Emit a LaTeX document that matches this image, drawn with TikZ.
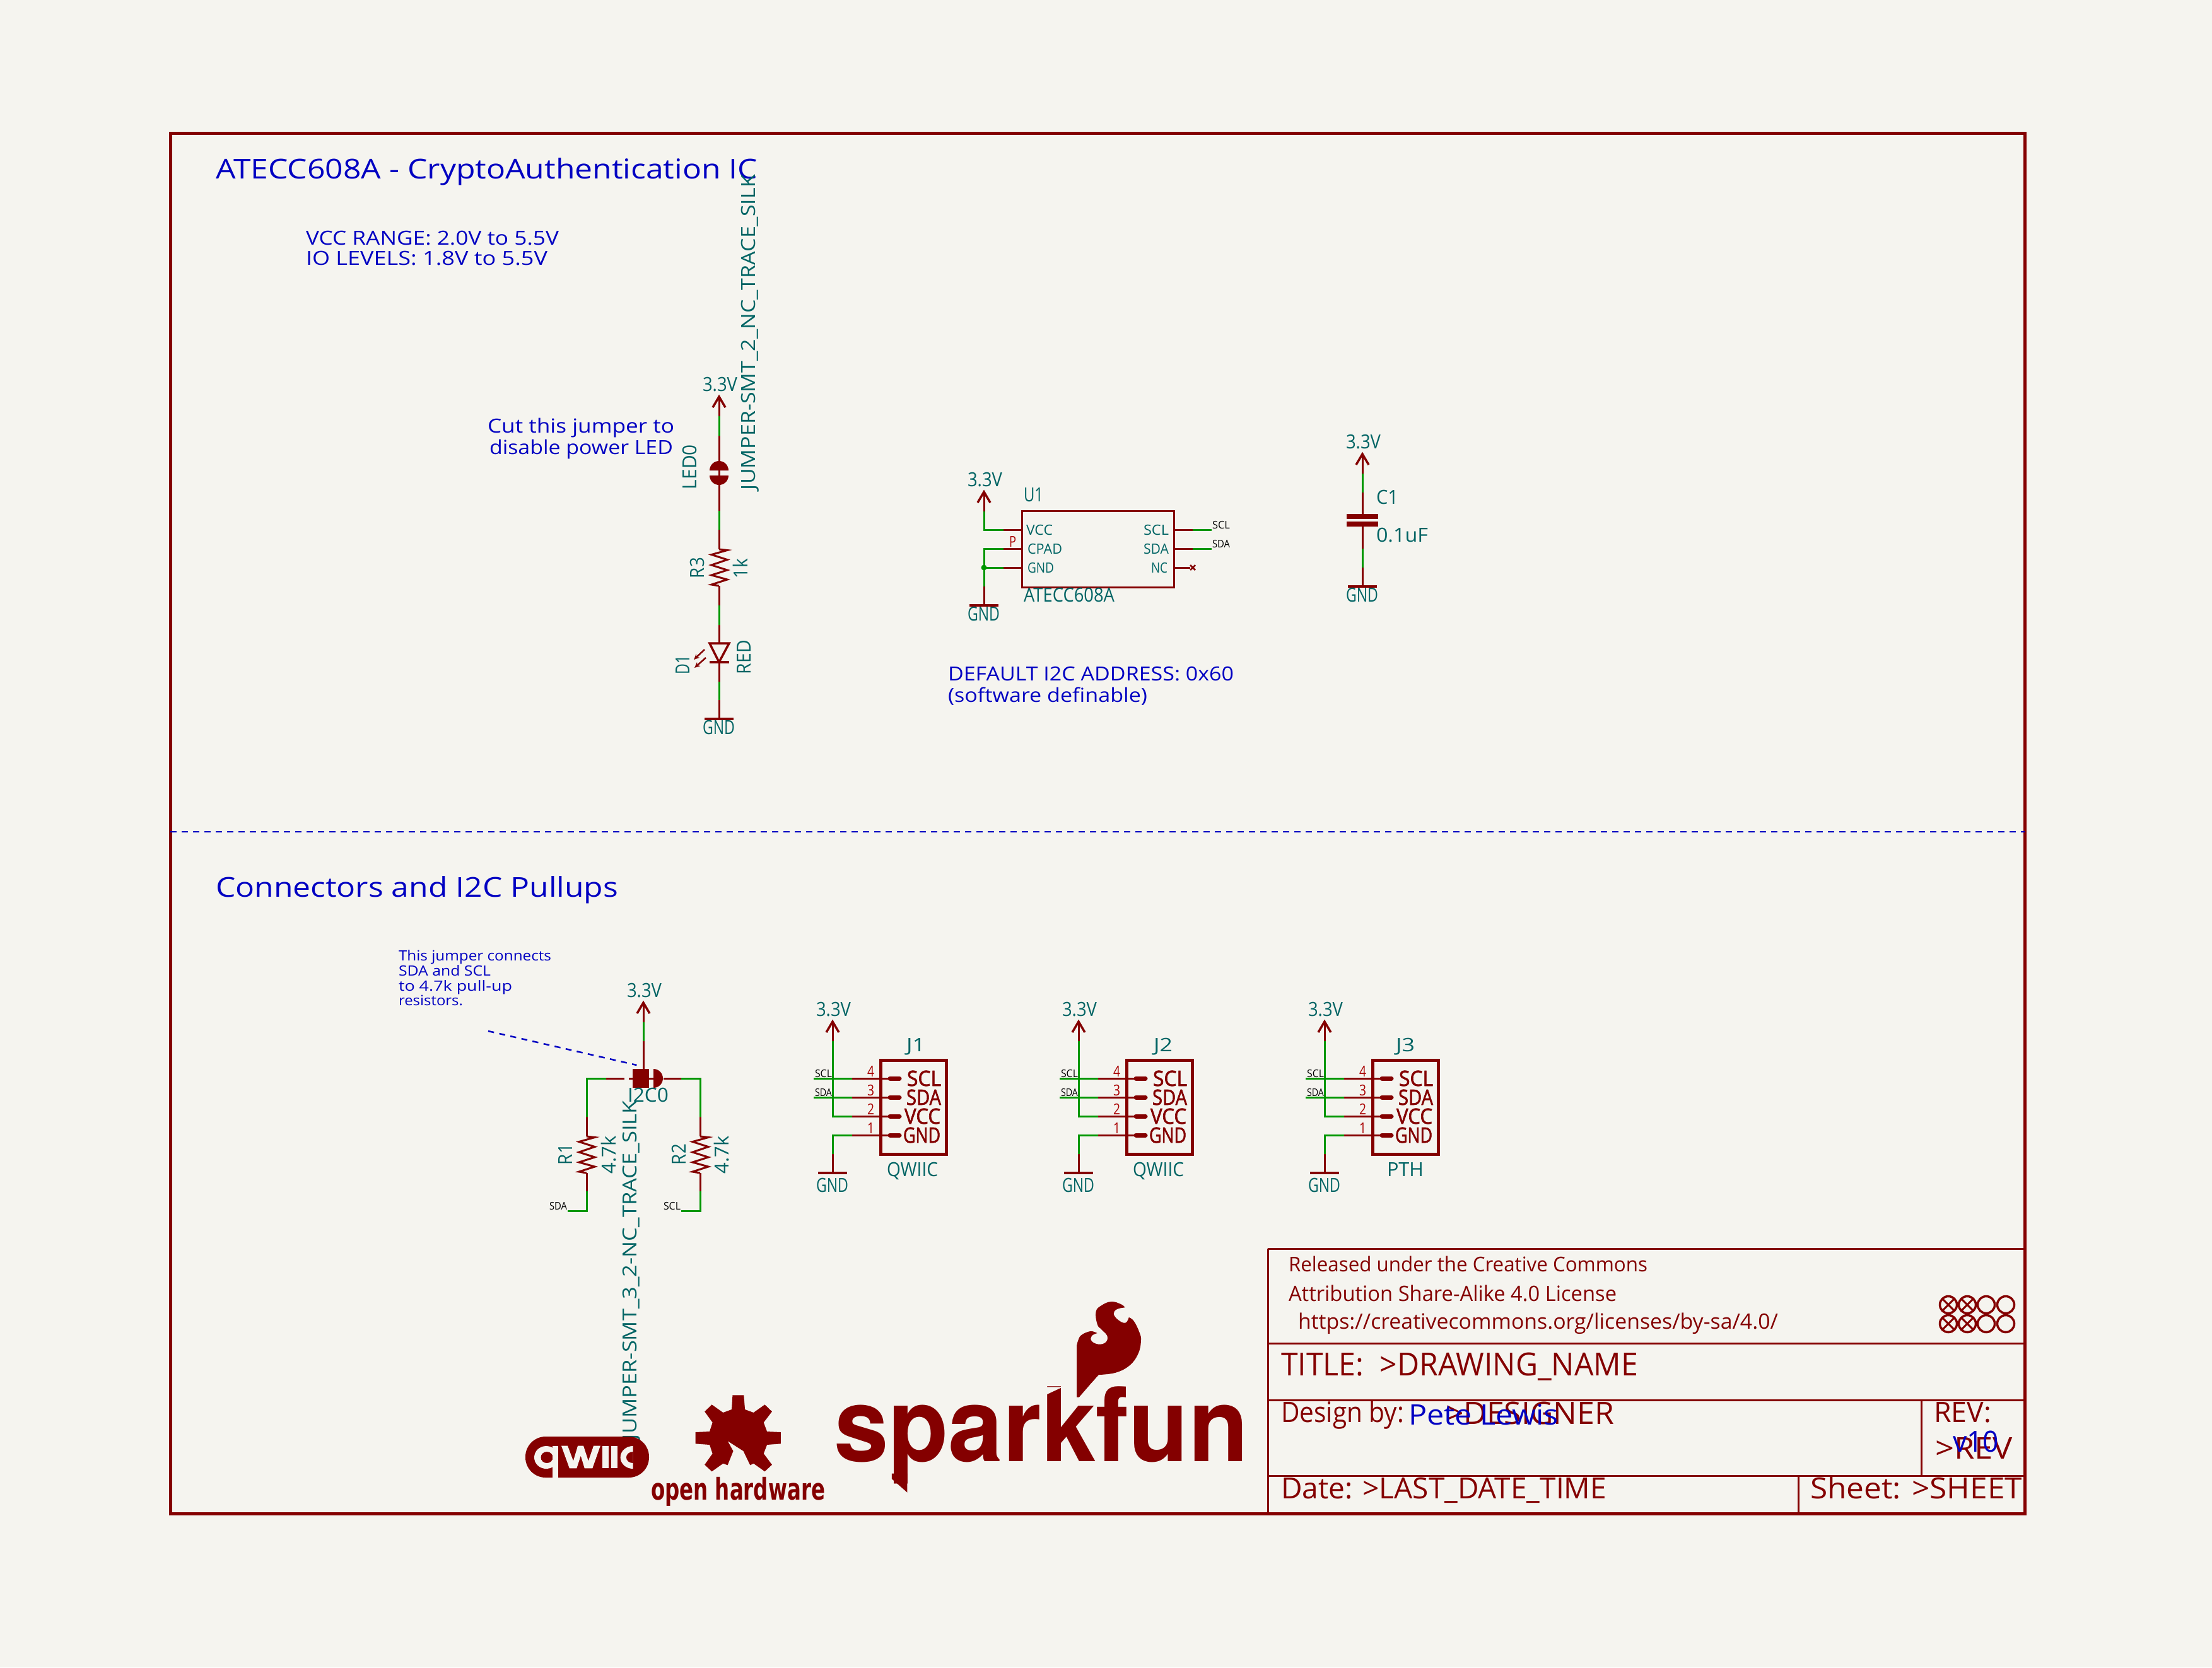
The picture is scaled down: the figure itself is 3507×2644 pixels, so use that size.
\documentclass[tikz,border=0pt]{standalone}
\usepackage{fontspec}
\usepackage{graphicx}
\usetikzlibrary{arrows.meta}
\setmainfont{Open Sans}
\newfontfamily\semif{Open Sans}[FakeBold=2]
\newfontfamily\herosf{TeX Gyre Heros}
\newfontfamily\dejaf{DejaVu Sans}
\definecolor{bgc}{HTML}{F5F4EF}
\definecolor{kred}{HTML}{840000}
\definecolor{kpin}{HTML}{A90000}
\definecolor{kgreen}{HTML}{009600}
\definecolor{kteal}{HTML}{006464}
\definecolor{kblue}{HTML}{0000C2}
\newlength\pxu \setlength\pxu{0.2mm}
\newlength\capu \setlength\capu{0.28mm}
\newlength\fsz
\newcommand\fitw[3]{\resizebox{#1\pxu}{\height}{\setlength\fsz{#2\capu}\fontsize{\fsz}{\fsz}\selectfont #3}}
\newcommand\klbl[6]{\node[#2] (#1) at (#3) {\fitw{#4}{#5}{#6}};}
\tikzset{
 lab/.style={inner sep=0pt,outer sep=0pt,anchor=base west},
 tealt/.style={lab,text=kteal},
 tealr/.style={tealt,rotate=90},
 bluet/.style={lab,text=kblue},
 redt/.style={lab,text=kred},
 boldred/.style={lab,text=kred,font=\semif},
 pinnum/.style={lab,text=kpin},
 blackt/.style={lab,text=black},
 wire/.style={draw=kgreen,line width=3\pxu,line join=miter},
 pinline/.style={draw=kred,line width=3\pxu},
 chevron/.style={draw=kred,line width=3.5\pxu,line join=miter},
 symline/.style={draw=kred,line width=3.5\pxu,line join=miter},
 gridline/.style={draw=kred,line width=3\pxu},
 noteline/.style={draw=kblue,line width=2.5\pxu,dash pattern=on 9.5\pxu off 8.5\pxu},
 ledarrow/.style={draw=kred,line width=2.5\pxu,-{Stealth[length=5.1pt,width=4.6pt]}},
}
\newcommand\kpwr[3]{%
 \coordinate (#1t) at (#2,#3);
 \coordinate (#1) at (#2,#3+31);
 \coordinate (#1a) at (#2-10,#3+17);
 \coordinate (#1b) at (#2+10,#3+17);
 \draw[pinline] (#1t) -- (#1);
 \draw[chevron] (#1a) -- (#1t) -- (#1b);
 \klbl{#1l}{tealt}{#2-26,#3-9}{55}{22}{3.3V}}
% id, x, y of bar, baseline offset of the label
\newcommand\kgnd[4]{%
 \coordinate (#1) at (#2,#3-30);
 \coordinate (#1m) at (#2,#3);
 \coordinate (#1a) at (#2-23,#3);
 \coordinate (#1b) at (#2+23,#3);
 \draw[pinline] (#1) -- (#1m);
 \draw[symline] (#1a) -- (#1b);
 \klbl{#1l}{tealt}{#2-26,#3+#4}{51}{22}{GND}}
\newcommand\kres[3]{%
 \coordinate (#1s) at (#2,#3);
 \coordinate (#1e) at (#2,#3+58);
 \draw[pinline,line join=miter] (#1s) -- (#2+13,#3+1.5) -- (#2-12,#3+8.5) -- (#2+13,#3+16.5) -- (#2-12,#3+25) -- (#2+13,#3+33) -- (#2-12,#3+41) -- (#2+13,#3+48) -- (#2-12,#3+56) -- (#1e);}
% id, xshift, refname, ref x (base), value, value x (base), value width
\newcommand\kconn[7]{%
 \begin{scope}[shift={(#2,0)}]
 \kpwr{#1p}{1320}{1620}
 \coordinate (#1c4) at (1351,1710); \coordinate (#1c3) at (1351,1740);
 \coordinate (#1c2) at (1351,1770); \coordinate (#1c1) at (1351,1800);
 \coordinate (#1s4) at (1290,1710); \coordinate (#1s3) at (1290,1740);
 \coordinate (#1e4) at (1408,1710); \coordinate (#1e3) at (1408,1740);
 \coordinate (#1e2) at (1408,1770); \coordinate (#1e1) at (1408,1800);
 \coordinate (#1f4) at (1411,1710); \coordinate (#1f3) at (1411,1740);
 \coordinate (#1f2) at (1411,1770); \coordinate (#1f1) at (1411,1800);
 \coordinate (#1h4) at (1426,1710); \coordinate (#1h3) at (1426,1740);
 \coordinate (#1h2) at (1426,1770); \coordinate (#1h1) at (1426,1800);
 \draw[wire] (#1p) |- (#1c2);
 \draw[wire] (#1s4) -- (#1c4);
 \draw[wire] (#1s3) -- (#1c3);
 \kgnd{#1g}{1320}{1860}{30}
 \draw[wire] (#1g) |- (#1c1);
 \foreach \n in {1,2,3,4} {
  \draw[pinline] (#1c\n) -- (#1e\n);
  \draw[draw=kred,line width=7\pxu,line cap=round] (#1f\n) -- (#1h\n);
 }
 \draw[draw=kred,line width=5\pxu] (1396,1681) rectangle (1500,1830);
 \klbl{#1n4}{pinnum}{1375,1707}{11}{17}{4}
 \klbl{#1n3}{pinnum}{1375,1737}{11}{17}{3}
 \klbl{#1n2}{pinnum}{1375,1767}{11}{17}{2}
 \klbl{#1n1}{pinnum}{1375,1797}{11}{17}{1}
 \klbl{#1t4}{boldred}{1438,1722}{54}{24}{SCL}
 \klbl{#1t3}{boldred}{1437,1752}{55}{24}{SDA}
 \klbl{#1t2}{boldred}{1434,1782}{57}{24}{VCC}
 \klbl{#1t1}{boldred}{1432,1812}{59}{24}{GND}
 \klbl{#1a4}{blackt}{1292,1708}{27}{12}{SCL}
 \klbl{#1a3}{blackt}{1292,1738}{27}{12}{SDA}
 \klbl{#1r}{tealt}{#4,1667}{30}{21}{#3}
 \klbl{#1v}{tealt}{#6,1865}{#7}{22}{#5}
 \end{scope}}
\begin{document}
\begin{tikzpicture}[x=0.2mm,y=-0.2mm]
\useasboundingbox (0,0) rectangle (3507,2644);
\fill[bgc] (0,0) rectangle (3507,2644);
% ---- frame
\draw[draw=kred,line width=5\pxu] (270.5,211) rectangle (3210,2400);
\coordinate (sepL) at (270,1319); \coordinate (sepR) at (3210,1319);
\draw[noteline] (sepL) -- (sepR);
% ---- title block
\draw[gridline] (2010,1980) -- (3210,1980);
\draw[gridline] (2010,1980) -- (2010,2400);
\draw[gridline] (2010,2130) -- (3210,2130);
\draw[gridline] (2010,2220) -- (3210,2220);
\draw[gridline] (2010,2340) -- (3210,2340);
\draw[gridline] (3046,2220) -- (3046,2340);
\draw[gridline] (2851,2340) -- (2851,2400);
\klbl{tbA}{redt}{2043,2016}{569}{23}{Released under the Creative Commons}
\klbl{tbB}{redt}{2043,2063}{520}{24}{Attribution Share-Alike 4.0 License}
\klbl{tbC}{redt}{2058,2107}{761}{24}{https://creativecommons.org/licenses/by-sa/4.0/}
\klbl{tbT}{redt}{2031,2181}{566}{36}{TITLE:\ \ >DRAWING\_NAME}
\klbl{tbD}{redt}{2031,2255}{195}{32}{Design by:}
\klbl{tbE}{redt}{2292,2258}{267}{35}{>DESIGNER}
\klbl{tbF}{bluet}{2233,2259}{238}{32}{Pete Lewis}
\klbl{tbR}{redt}{3066,2255}{91}{32}{REV:}
\klbl{tbS}{redt}{3068,2313}{123}{34}{>REV}
\klbl{tbV}{bluet}{3096,2302}{73}{33}{v10}
\klbl{tbG}{redt}{2031,2376}{516}{33}{Date: >LAST\_DATE\_TIME}
\klbl{tbH}{redt}{2870,2376}{336}{33}{Sheet: >SHEET}
\foreach \cx in {3089,3119,3149,3180} \foreach \cy in {2069,2099} {
  \draw[draw=kred,line width=3.5\pxu] (\cx,\cy) circle (13.5);
}
\foreach \cx in {3089,3119} \foreach \cy in {2069,2099} {
  \draw[draw=kred,line width=3\pxu] (\cx-9.5,\cy-9.5) -- (\cx+9.5,\cy+9.5);
  \draw[draw=kred,line width=3\pxu] (\cx-9.5,\cy+9.5) -- (\cx+9.5,\cy-9.5);
}
% ---- headings and notes
\klbl{hA}{bluet}{342,283}{859}{31}{ATECC608A - CryptoAuthentication IC}
\klbl{hB}{bluet}{342,1422}{638}{31}{Connectors and I2C Pullups}
\klbl{nA}{bluet}{485,388}{401}{22}{VCC RANGE: 2.0V to 5.5V}
\klbl{nB}{bluet}{485,420}{383}{22}{IO LEVELS: 1.8V to 5.5V}
\klbl{nC}{bluet}{773,686}{296}{22}{Cut this jumper to}
\klbl{nD}{bluet}{776,720}{291}{22}{disable power LED}
\klbl{nE}{bluet}{1503,1079}{453}{22}{DEFAULT I2C ADDRESS: 0x60}
\klbl{nF}{bluet}{1503,1113}{316}{22}{(software definable)}
\klbl{nG}{bluet}{632,1523}{242}{16}{This jumper connects}
\klbl{nH}{bluet}{632,1547}{146}{16}{SDA and SCL}
\klbl{nI}{bluet}{632,1571}{180}{16}{to 4.7k pull-up}
\klbl{nJ}{bluet}{632,1594}{102}{16}{resistors.}
% ---- LED column
\kpwr{pa}{1140}{629}
\coordinate (ja1) at (1140,691);
\coordinate (jat) at (1140,731);
\coordinate (jab) at (1140,769);
\coordinate (ja2) at (1140,810);
\coordinate (ra0) at (1140,840);
\coordinate (ra1) at (1140,871);
\coordinate (ra3) at (1140,960);
\coordinate (ra4) at (1140,991);
\coordinate (ledt) at (1140,1020);
\coordinate (ledb) at (1140,1050);
\coordinate (lpb) at (1140,1081);
\draw[wire] (pa) -- (ja1);
\draw[pinline] (ja1) -- (jat);
\fill[kred] (1125,746) arc (-180:0:15) -- cycle;
\fill[kred] (1125,754) arc (180:0:15) -- cycle;
\draw[pinline] (jat) -- (jab);
\draw[pinline] (jab) -- (ja2);
\draw[wire] (ja2) -- (ra0);
\draw[pinline] (ra0) -- (ra1);
\kres{rc}{1140}{871}
\draw[pinline] (rce) -- (ra3);
\draw[wire] (ra3) -- (ra4);
\draw[pinline] (ra4) -- (ledt);
\draw[symline] (1125,1020) -- (1156,1020) -- (ledb) -- cycle;
\draw[symline] (1125,1050) -- (1156,1050);
\draw[pinline] (ledb) -- (lpb);
\kgnd{ga}{1140}{1140}{24}
\draw[wire] (lpb) -- (ga);
\draw[ledarrow] (1117,1030) -- (1100,1046);
\draw[ledarrow] (1119,1043) -- (1101,1059);
\klbl{vLED}{tealr}{1104,776}{71}{22}{LED0}
\klbl{vJMP}{tealr}{1197,777}{500}{22}{JUMPER-SMT\_2\_NC\_TRACE\_SILK}
\klbl{vR3}{tealr}{1116,917}{33}{22}{R3}
\klbl{v1k}{tealr}{1185,917}{31}{22}{1k}
\klbl{vD1}{tealr}{1093,1069}{30}{22}{D1}
\klbl{vRED}{tealr}{1190,1069}{54}{22}{RED}
% ---- U1
\kpwr{pb}{1560}{780}
\coordinate (u1vi) at (1591,840); \coordinate (u1v) at (1620,840);
\coordinate (u1ci) at (1591,870); \coordinate (u1c) at (1620,870);
\coordinate (u1gi) at (1591,900); \coordinate (u1g) at (1620,900);
\coordinate (u1cc) at (1560,870); \coordinate (u1jn) at (1560,900);
\coordinate (u1sc) at (1861,840); \coordinate (u1sci) at (1891,840); \coordinate (u1sce) at (1921,840);
\coordinate (u1sd) at (1861,870); \coordinate (u1sdi) at (1891,870); \coordinate (u1sde) at (1921,870);
\coordinate (u1nc) at (1861,900); \coordinate (u1nce) at (1887,900);
\draw[wire] (pb) |- (u1vi);
\draw[pinline] (u1vi) -- (u1v);
\draw[wire] (u1ci) -| (u1jn);
\draw[pinline] (u1ci) -- (u1c);
\draw[wire] (u1jn) -- (u1gi);
\draw[pinline] (u1gi) -- (u1g);
\kgnd{gb}{1560}{960}{24}
\draw[wire] (u1jn) -- (gb);
\fill[kgreen] (u1jn) circle (4.5);
\draw[draw=kred,line width=3\pxu] (1620,810) rectangle (1861,931);
\draw[pinline] (u1sc) -- (u1sci); \draw[wire] (u1sci) -- (u1sce);
\draw[pinline] (u1sd) -- (u1sdi); \draw[wire] (u1sdi) -- (u1sde);
\draw[pinline] (u1nc) -- (u1nce);
\draw[draw=kred,line width=2.5\pxu] (1887,896) -- (1895,904);
\draw[draw=kred,line width=2.5\pxu] (1887,904) -- (1895,896);
\klbl{uP}{pinnum}{1600,867}{11}{17}{P}
\klbl{uV}{tealt}{1627,848}{42}{16}{VCC}
\klbl{uC}{tealt}{1629,878}{55}{16}{CPAD}
\klbl{uG}{tealt}{1629,908}{42}{16}{GND}
\klbl{uS}{tealt}{1813,848}{40}{16}{SCL}
\klbl{uD}{tealt}{1813,878}{40}{16}{SDA}
\klbl{uN}{tealt}{1825,908}{26}{16}{NC}
\klbl{uR}{tealt}{1623,795}{31}{22}{U1}
\klbl{uT}{tealt}{1623,954}{144}{22}{ATECC608A}
\klbl{uSl}{blackt}{1922,838}{28}{12}{SCL}
\klbl{uDl}{blackt}{1922,868}{28}{12}{SDA}
% ---- C1
\kpwr{pc}{2160}{720}
\coordinate (c1a) at (2160,781); \coordinate (c1b) at (2160,815);
\coordinate (c1c) at (2160,835); \coordinate (c1d) at (2160,870);
\coordinate (c1e) at (2160,901);
\draw[wire] (pc) -- (c1a);
\draw[pinline] (c1a) -- (c1b);
\fill[kred] (2135,815) rectangle (2185,823);
\fill[kred] (2135,827) rectangle (2185,835);
\draw[pinline] (c1c) -- (c1d);
\draw[wire] (c1d) -- (c1e);
\kgnd{gc}{2160}{930}{24}
\draw[pinline] (c1e) -- (gc);
\klbl{cR}{tealt}{2182,799}{35}{22}{C1}
\klbl{cV}{tealt}{2182,859}{82}{22}{0.1uF}
% ---- pull-ups
\kpwr{pd}{1020}{1590}
\coordinate (jb1) at (1020,1651);
\coordinate (jbt) at (1020,1695);
\coordinate (jbl) at (930,1710);
\coordinate (jbl1) at (961,1710);
\coordinate (jbl2) at (990,1710);
\coordinate (jbl3) at (997,1710);
\coordinate (jbl4) at (1003,1710);
\coordinate (jbr1) at (1052,1710);
\coordinate (jbr2) at (1080,1710);
\coordinate (jbr) at (1110,1710);
\coordinate (r1a) at (930,1771); \coordinate (r1b) at (930,1802);
\coordinate (r2a) at (1110,1771); \coordinate (r2b) at (1110,1802);
\coordinate (r1c) at (930,1889); \coordinate (r2c) at (1110,1889);
\coordinate (r1d) at (900,1920); \coordinate (r2d) at (1080,1920);
\draw[wire] (pd) -- (jb1);
\draw[pinline] (jb1) -- (jbt);
\fill[kred] (1003,1694.5) rectangle (1029,1725);
\fill[kred] (1036,1695) arc (-90:90:15) -- cycle;
\draw[pinline] (1029,1710) -- (1040,1710);
\draw[wire] (jbl1) -| (r1a);
\draw[pinline] (jbl1) -- (jbl2);
\draw[pinline] (jbl3) -- (jbl4);
\draw[pinline] (jbr1) -- (jbr2);
\draw[wire] (jbr2) -| (r2a);
\draw[pinline] (r1a) -- (r1b);
\draw[pinline] (r2a) -- (r2b);
\kres{ra}{930}{1802}
\kres{rb}{1110}{1802}
\draw[pinline] (rae) -- (r1c);
\draw[pinline] (rbe) -- (r2c);
\draw[wire] (r1c) |- (r1d);
\draw[wire] (r2c) |- (r2d);
\coordinate (nt1) at (774,1635); \coordinate (nt2) at (1009.5,1689);
\draw[noteline] (nt1) -- (nt2);
\klbl{wR1}{tealr}{907,1847}{33}{22}{R1}
\klbl{wV1}{tealr}{976,1861}{60}{22}{4.7k}
\klbl{wR2}{tealr}{1087,1847}{33}{22}{R2}
\klbl{wV2}{tealr}{1155,1861}{60}{22}{4.7k}
\klbl{wJ}{tealt}{995,1747}{65}{22}{I2C0}
\klbl{wS}{tealr}{1009,2283}{538}{22}{JUMPER-SMT\_3\_2-NC\_TRACE\_SILK}
\klbl{wA}{blackt}{871,1918}{28}{12}{SDA}
\klbl{wB}{blackt}{1052,1918}{27}{12}{SCL}
% ---- connectors
\kconn{ja}{0}{J1}{1437}{QWIIC}{1406}{81}
\kconn{jb}{390}{J2}{1439}{QWIIC}{1406}{81}
\kconn{jc}{780}{J3}{1433}{PTH}{1419}{58}
% ---- qwiic logo
\fill[kred,rounded corners=32\pxu] (833,2278) rectangle (1029,2343);
\fill[bgc] (866,2311) ellipse (19 and 18);
\fill[kred] (867,2311) ellipse (9.5 and 9);
\fill[bgc] (876,2293) rectangle (885,2344);
\begin{scope}[shift={(800,2000)},xscale=0.35714,yscale=0.33333]
\fill[bgc] (252,878) -- (280,878) -- (305,950) -- (325,878) -- (350,878) -- (372,950) -- (395,878) -- (425,878) -- (390,985) -- (355,985) -- (338,925) -- (320,985) -- (288,985) -- cycle;
\fill[bgc] (435,878) rectangle (462,985);
\fill[bgc] (473,878) rectangle (500,985);
\end{scope}
\begin{scope}
\clip (980,2280) rectangle (1003.6,2340);
\fill[bgc] (1003.6,2311) ellipse (20 and 18);
\fill[kred] (1003.6,2311) ellipse (10.7 and 9);
\end{scope}
% ---- open hardware gear
\begin{scope}[shift={(800,2000)},xscale=0.35714,yscale=0.33333]
\fill[kred] (1012,637) -- (1062,637) -- (1067,705) -- (1105,720) -- (1155,682) -- (1187,715) -- (1150,767) -- (1165,810) -- (1226,813) -- (1226,868) -- (1165,873) -- (1150,915) -- (1187,968) -- (1155,1000) -- (1105,962) -- (1090,970) -- (1060,903) -- (990,855) -- (1015,903) -- (990,970) -- (970,962) -- (920,1000) -- (888,968) -- (923,915) -- (910,873) -- (847,868) -- (847,813) -- (910,810) -- (923,767) -- (888,715) -- (920,682) -- (970,720) -- (1008,705) -- cycle;
\end{scope}
\klbl{logoO}{redt}{1032,2378}{276}{34}{\dejaf\bfseries open hardware}
% ---- sparkfun logo
\klbl{logoS}{redt}{1322,2317}{658}{116.4}{\herosf\bfseries sparkfun}
\begin{scope}[shift={(1300,2040)},xscale=0.44643,yscale=0.33333]
\fill[bgc] (800,478) -- (800,517) -- (862,478) -- cycle;
\fill[kred] (255,890) -- (255,915) -- (310,980) -- (310,890) -- cycle;
\fill[kred] (912,527) -- (912,280) -- plot[smooth,tension=0.6] coordinates {(912,280) (925,235) (960,213) (985,222)} -- plot[smooth,tension=0.7] coordinates {(985,222) (965,235) (965,260) (990,275) (1015,265) (1020,235) (1000,205) (985,180) (980,120) (1000,90) (1035,72) (1070,85) (1083,100)} -- plot[smooth,tension=0.7] coordinates {(1083,100) (1055,108) (1043,130) (1060,160) (1085,173) (1097,147)} -- plot[smooth,tension=0.7] coordinates {(1097,147) (1115,165) (1135,220) (1140,260) (1130,320) (1100,375) (1050,410) (990,420)} -- (960,465) -- (920,527) -- cycle;
\end{scope}
\end{tikzpicture}
\end{document}
